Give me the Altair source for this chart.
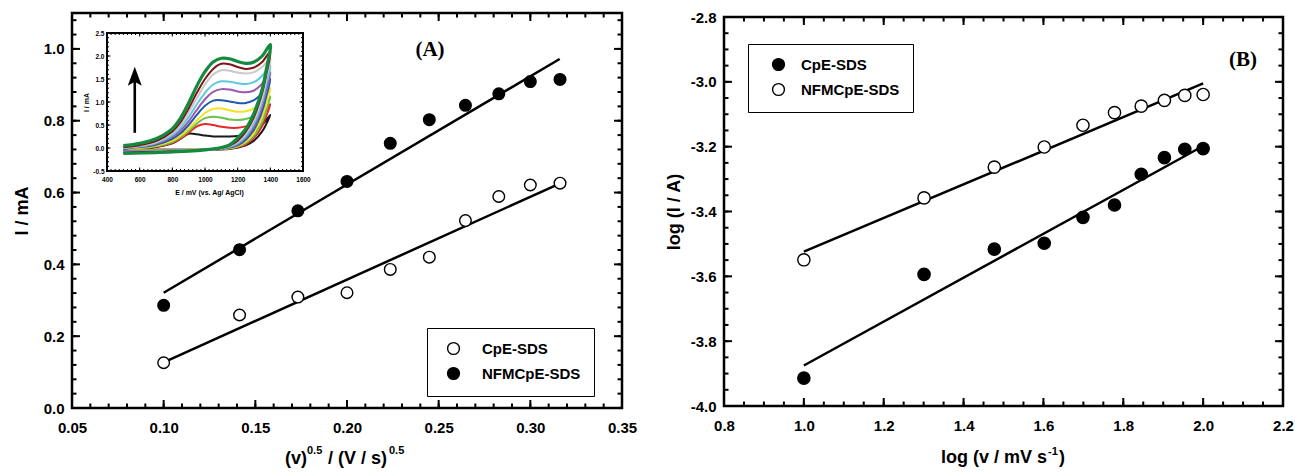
import altair as alt
import pandas as pd

W, H = 1295, 474
SANS = "Liberation Sans"
SERIF = "Liberation Serif"
MINUS = chr(0x2212)

# ---------------- data: panel A ----------------
A_SERIES = ["CpE-SDS", "NFMCpE-SDS"]
A_X = [0.100, 0.1414, 0.1732, 0.200, 0.2236, 0.2449, 0.2646, 0.2828, 0.300, 0.3162]
A_CPE = [0.126, 0.259, 0.309, 0.321, 0.386, 0.420, 0.522, 0.589, 0.621, 0.626]
A_NFM = [0.286, 0.441, 0.549, 0.631, 0.737, 0.803, 0.843, 0.875, 0.909, 0.915]
A_FIT_X = [0.100, 0.316]
A_FIT_CPE = [0.127, 0.625]
A_FIT_NFM = [0.321, 0.972]

# ---------------- data: panel B ----------------
B_SERIES = ["CpE-SDS", "NFMCpE-SDS"]
B_X = [1.000, 1.301, 1.477, 1.602, 1.699, 1.778, 1.845, 1.903, 1.954, 2.000]
B_CPE = [-3.914, -3.594, -3.516, -3.498, -3.418, -3.380, -3.285, -3.234, -3.208, -3.206]
B_NFM = [-3.549, -3.358, -3.263, -3.201, -3.134, -3.095, -3.075, -3.057, -3.042, -3.039]
B_FIT_X = [1.0, 2.0]
B_FIT_CPE = [-3.875, -3.198]
B_FIT_NFM = [-3.524, -3.005]

# ---------------- data: inset (cyclic voltammograms) ----------------
INSET_E_UP = [500, 600, 700, 800, 850, 900, 950, 1000, 1050, 1100, 1150, 1200, 1250, 1300, 1350, 1400]
INSET_E_DOWN = [1375, 1350, 1300, 1250, 1200, 1150, 1100, 1000, 900, 700, 500]
INSET_CURVES = ["black", "red", "lightgreen", "yellow", "blue", "purple", "cyan", "gray", "maroon", "green"]
INSET_COLORS = ["#1a1a1a", "#e8282b", "#6cc24a", "#f0e21e", "#1f5aa8", "#9b59b0", "#5ec9dd", "#c9c9c9", "#7b1416", "#138a3d"]
INSET_UP = {
    "black":      [-0.04, -0.02, 0.02, 0.10, 0.20, 0.31, 0.30, 0.27, 0.25, 0.25, 0.25, 0.26, 0.29, 0.36, 0.50, 0.72],
    "red":        [-0.04, -0.01, 0.03, 0.11, 0.20, 0.33, 0.47, 0.52, 0.50, 0.46, 0.44, 0.44, 0.47, 0.55, 0.70, 0.95],
    "lightgreen": [-0.03, 0.00, 0.04, 0.13, 0.23, 0.37, 0.53, 0.65, 0.68, 0.66, 0.62, 0.61, 0.63, 0.70, 0.86, 1.12],
    "yellow":     [-0.03, 0.01, 0.05, 0.16, 0.27, 0.42, 0.60, 0.76, 0.85, 0.86, 0.82, 0.79, 0.80, 0.86, 1.02, 1.30],
    "blue":       [-0.02, 0.02, 0.07, 0.20, 0.32, 0.50, 0.72, 0.92, 1.03, 1.04, 1.01, 0.98, 0.98, 1.04, 1.20, 1.50],
    "purple":     [-0.01, 0.03, 0.09, 0.24, 0.38, 0.58, 0.83, 1.06, 1.22, 1.28, 1.27, 1.23, 1.21, 1.25, 1.40, 1.65],
    "cyan":       [0.00, 0.04, 0.11, 0.28, 0.44, 0.67, 0.95, 1.20, 1.38, 1.45, 1.44, 1.41, 1.39, 1.43, 1.57, 1.80],
    "gray":       [0.01, 0.05, 0.13, 0.32, 0.50, 0.77, 1.08, 1.38, 1.60, 1.69, 1.68, 1.64, 1.62, 1.65, 1.76, 1.95],
    "maroon":     [0.02, 0.06, 0.15, 0.36, 0.56, 0.86, 1.20, 1.50, 1.72, 1.83, 1.82, 1.76, 1.72, 1.75, 1.87, 2.10],
    "green":      [0.05, 0.10, 0.20, 0.42, 0.65, 0.98, 1.35, 1.66, 1.87, 1.95, 1.94, 1.88, 1.84, 1.87, 2.00, 2.25],
}
INSET_DOWN = {
    "black":      [0.52, 0.36, 0.16, 0.06, 0.01, -0.02, -0.03, -0.04, -0.04, -0.04, -0.04],
    "red":        [0.70, 0.48, 0.22, 0.08, 0.02, -0.01, -0.03, -0.04, -0.04, -0.04, -0.04],
    "lightgreen": [0.82, 0.57, 0.27, 0.11, 0.03, -0.01, -0.03, -0.04, -0.04, -0.04, -0.04],
    "yellow":     [0.96, 0.68, 0.33, 0.14, 0.04, 0.00, -0.02, -0.04, -0.04, -0.05, -0.05],
    "blue":       [1.12, 0.80, 0.40, 0.18, 0.06, 0.01, -0.02, -0.04, -0.05, -0.06, -0.06],
    "purple":     [1.25, 0.90, 0.46, 0.22, 0.08, 0.02, -0.02, -0.04, -0.05, -0.06, -0.07],
    "cyan":       [1.38, 1.00, 0.53, 0.26, 0.10, 0.03, -0.01, -0.04, -0.05, -0.07, -0.08],
    "gray":       [1.50, 1.10, 0.60, 0.31, 0.13, 0.04, -0.01, -0.04, -0.06, -0.08, -0.09],
    "maroon":     [1.60, 1.20, 0.68, 0.36, 0.16, 0.05, 0.00, -0.04, -0.06, -0.08, -0.10],
    "green":      [1.70, 1.28, 0.76, 0.42, 0.22, 0.07, 0.01, -0.04, -0.07, -0.10, -0.12],
}
ARROW_E = [570]
ARROW_I = [0.33, 1.55]

# ---------------- domains & tick labels ----------------
A_XDOM, A_YDOM = [0.05, 0.35], [0.0, 1.1]
B_XDOM, B_YDOM = [0.8, 2.2], [-4.0, -2.8]
I_XDOM, I_YDOM = [400, 1600], [-0.5, 2.5]

A_XLAB = [0.05, 0.10, 0.15, 0.20, 0.25, 0.30, 0.35]
A_YLAB = [0.0, 0.2, 0.4, 0.6, 0.8, 1.0]
B_XLAB = [0.8, 1.0, 1.2, 1.4, 1.6, 1.8, 2.0, 2.2]
B_YLAB = [-4.0, -3.8, -3.6, -3.4, -3.2, -3.0, -2.8]
I_XLAB = [400, 600, 800, 1000, 1200, 1400, 1600]
I_YLAB = [-0.5, 0.0, 0.5, 1.0, 1.5, 2.0, 2.5]

A_XT = [round(0.05 + 0.01 * i, 2) for i in range(31)]
A_YT = [round(0.04 * i, 2) for i in range(28)]
B_XT = [round(0.8 + 0.05 * i, 2) for i in range(29)]
B_YT = [round(-4.0 + 0.05 * i, 2) for i in range(25)]
I_XT = [400 + 25 * i for i in range(49)]
I_YT = [round(-0.5 + 0.1 * i, 1) for i in range(31)]

# ---------------- pixel frames (plot areas) ----------------
A_L, A_R, A_T, A_B = 72, 622, 13, 408
B_L, B_R, B_T, B_B = 724, 1283, 17, 406
I_L, I_R, I_T, I_B = 107, 303, 33, 171

sxA = alt.Scale(domain=A_XDOM, range=[A_L, A_R], nice=False, zero=False)
syA = alt.Scale(domain=A_YDOM, range=[A_B, A_T], nice=False, zero=False)
sxB = alt.Scale(domain=B_XDOM, range=[B_L, B_R], nice=False, zero=False)
syB = alt.Scale(domain=B_YDOM, range=[B_B, B_T], nice=False, zero=False)
sxI = alt.Scale(domain=I_XDOM, range=[I_L, I_R], nice=False, zero=False)
syI = alt.Scale(domain=I_YDOM, range=[I_B, I_T], nice=False, zero=False)

DASH_EXPR = f"replace(datum.label, '{MINUS}', '-')"


def label_axis(orient, offset, values, fmt, pad, size, title=None, tx=None, ty=None,
               tsize=18):
    kw = dict(orient=orient, offset=offset, values=values, format=fmt, ticks=False, tickSize=0,
              labelPadding=pad, labelFont=SANS, labelFontSize=size, labelFontWeight="bold",
              labelColor="black", labelFlush=False, labelOverlap=False, labelExpr=DASH_EXPR,
              domain=False, grid=False)
    if title is None:
        kw["title"] = None
    else:
        kw.update(title=title, titleFont=SANS, titleFontSize=tsize, titleFontWeight="bold",
                  titleColor="black", titleX=tx, titleY=ty)
    return alt.Axis(**kw)


def axis_layers(xs, ys, xdom, ydom, xaxis, yaxis):
    df = pd.DataFrame({"x": xdom, "y": ydom})
    return [
        alt.Chart(df).mark_point(opacity=0).encode(
            x=alt.X("x:Q", scale=xs, axis=xaxis), y=alt.Y("y:Q", scale=ys, axis=None)),
        alt.Chart(df).mark_point(opacity=0).encode(
            x=alt.X("x:Q", scale=xs, axis=None), y=alt.Y("y:Q", scale=ys, axis=yaxis)),
    ]


def frame(xs, ys, xdom, ydom, width):
    df = pd.DataFrame({"x0": [xdom[0]], "x1": [xdom[1]], "y0": [ydom[0]], "y1": [ydom[1]]})
    return alt.Chart(df).mark_rect(fill=None, stroke="black", strokeWidth=width,
                                   strokeJoin="miter").encode(
        x=alt.X("x0:Q", scale=xs, axis=None), x2="x1:Q",
        y=alt.Y("y0:Q", scale=ys, axis=None), y2="y1:Q")


def inward_ticks(xs, ys, box, xmaj, xmin, ymaj, ymin, big, small, width):
    """inward-pointing tick marks on all four edges, placed through the scales"""
    left, right, top, bottom = box
    out = []
    for vals, size in ((xmin, small), (xmaj, big)):
        d = pd.DataFrame({"v": vals})
        out.append(alt.Chart(d).mark_rule(color="black", strokeWidth=width).encode(
            x=alt.X("v:Q", scale=xs, axis=None), y=alt.value(bottom), y2=alt.value(bottom - size)))
        out.append(alt.Chart(d).mark_rule(color="black", strokeWidth=width).encode(
            x=alt.X("v:Q", scale=xs, axis=None), y=alt.value(top), y2=alt.value(top + size)))
    for vals, size in ((ymin, small), (ymaj, big)):
        d = pd.DataFrame({"v": vals})
        out.append(alt.Chart(d).mark_rule(color="black", strokeWidth=width).encode(
            y=alt.Y("v:Q", scale=ys, axis=None), x=alt.value(left), x2=alt.value(left + size)))
        out.append(alt.Chart(d).mark_rule(color="black", strokeWidth=width).encode(
            y=alt.Y("v:Q", scale=ys, axis=None), x=alt.value(right), x2=alt.value(right - size)))
    return out


def legend(x, y, sym_off, lab_off):
    return alt.Legend(orient="none", legendX=x, legendY=y, title=None, strokeColor="black",
                      fillColor="white", padding=13, symbolType="circle", symbolSize=140,
                      symbolStrokeColor="black", symbolStrokeWidth=1.4, symbolOffset=sym_off,
                      labelOffset=lab_off, labelFont=SANS, labelFontSize=15,
                      labelFontWeight="bold", labelColor="black", rowPadding=6)


# ---------------- panel A ----------------
dfA = pd.DataFrame({"x": A_X + A_X, "y": A_CPE + A_NFM,
                    "s": [A_SERIES[0]] * len(A_X) + [A_SERIES[1]] * len(A_X)})
dfAf = pd.DataFrame({"x": A_FIT_X + A_FIT_X, "y": A_FIT_CPE + A_FIT_NFM,
                     "s": [A_SERIES[0]] * 2 + [A_SERIES[1]] * 2})
fitA = alt.Chart(dfAf).mark_line(color="black", strokeWidth=2.5).encode(
    x=alt.X("x:Q", scale=sxA, axis=None), y=alt.Y("y:Q", scale=syA, axis=None), detail="s:N")
ptsA = alt.Chart(dfA).mark_point(filled=True, shape="circle", size=135, stroke="black",
                                 strokeWidth=1.4, opacity=1).encode(
    x=alt.X("x:Q", scale=sxA, axis=None), y=alt.Y("y:Q", scale=syA, axis=None),
    fill=alt.Fill("s:N", scale=alt.Scale(domain=A_SERIES, range=["white", "black"]),
                  legend=legend(427, 328, 6, 21)))
axA = axis_layers(
    sxA, syA, A_XDOM, A_YDOM,
    label_axis("bottom", A_B - H, A_XLAB, ".2f", 12, 15),
    label_axis("left", -A_L, A_YLAB, ".1f", 8, 15, title="I / mA", tx=-41, ty=(A_T + A_B) / 2))
ticksA = inward_ticks(sxA, syA, (A_L, A_R, A_T, A_B), A_XLAB, A_XT, A_YLAB, A_YT, 8, 4.5, 2)
panelA = alt.layer(*ticksA, frame(sxA, syA, A_XDOM, A_YDOM, 2.5), fitA, ptsA, *axA).resolve_axis(
    x="independent", y="independent")

# ---------------- inset ----------------
rows = []
for c in INSET_CURVES:
    es = INSET_E_UP + INSET_E_DOWN
    vs = INSET_UP[c] + INSET_DOWN[c]
    for i, (e, v) in enumerate(zip(es, vs)):
        rows.append({"c": c, "i": i, "E": e, "I": v})
dfI = pd.DataFrame(rows)
bgI = alt.Chart(pd.DataFrame({"x0": [I_XDOM[0]], "x1": [I_XDOM[1]], "y0": [I_YDOM[0]], "y1": [I_YDOM[1]]})).mark_rect(
    fill="white").encode(
    x=alt.X("x0:Q", scale=sxI, axis=None), x2="x1:Q",
    y=alt.Y("y0:Q", scale=syI, axis=None), y2="y1:Q")
curves = []
for c, col in zip(INSET_CURVES, INSET_COLORS):
    curves.append(alt.Chart(dfI[dfI["c"] == c]).mark_line(
        color=col, strokeWidth=3.2 if c == "green" else 2.0, interpolate="catmull-rom").encode(
        x=alt.X("E:Q", scale=sxI, axis=None), y=alt.Y("I:Q", scale=syI, axis=None),
        order=alt.Order("i:Q")))
arrow_df = pd.DataFrame({"E": ARROW_E, "I0": [ARROW_I[0]], "I1": [ARROW_I[1]]})
shaft = alt.Chart(arrow_df).mark_rule(color="black", strokeWidth=2.6).encode(
    x=alt.X("E:Q", scale=sxI, axis=None), y=alt.Y("I0:Q", scale=syI, axis=None), y2="I1:Q")
head = alt.Chart(arrow_df).mark_point(
    shape="M0,-1L0.7,0.9L0,0.5L-0.7,0.9Z", filled=True, color="black", size=400, opacity=1).encode(
    x=alt.X("E:Q", scale=sxI, axis=None), y=alt.Y("I1:Q", scale=syI, axis=None))
axI = axis_layers(
    sxI, syI, I_XDOM, I_YDOM,
    label_axis("bottom", I_B - H, I_XLAB, "d", 5, 6.5, title="E / mV (vs. Ag/ AgCl)",
               tx=(I_L + I_R) / 2 + 4, ty=17, tsize=7),
    label_axis("left", -I_L, I_YLAB, ".1f", 3, 6.5, title="I / mA", tx=-18,
               ty=(I_T + I_B) / 2, tsize=7))
ticksI = inward_ticks(sxI, syI, (I_L, I_R, I_T, I_B), I_XLAB, I_XT, I_YLAB, I_YT, 3.5, 2, 1)
inset = alt.layer(bgI, *ticksI, frame(sxI, syI, I_XDOM, I_YDOM, 2), *curves, shaft, head, *axI).resolve_axis(
    x="independent", y="independent")

# ---------------- panel B ----------------
dfB = pd.DataFrame({"x": B_X + B_X, "y": B_CPE + B_NFM,
                    "s": [B_SERIES[0]] * len(B_X) + [B_SERIES[1]] * len(B_X)})
dfBf = pd.DataFrame({"x": B_FIT_X + B_FIT_X, "y": B_FIT_CPE + B_FIT_NFM,
                     "s": [B_SERIES[0]] * 2 + [B_SERIES[1]] * 2})
fitB = alt.Chart(dfBf).mark_line(color="black", strokeWidth=2.5).encode(
    x=alt.X("x:Q", scale=sxB, axis=None), y=alt.Y("y:Q", scale=syB, axis=None), detail="s:N")
ptsB = alt.Chart(dfB).mark_point(filled=True, shape="circle", size=150, stroke="black",
                                 strokeWidth=1.4, opacity=1).encode(
    x=alt.X("x:Q", scale=sxB, axis=None), y=alt.Y("y:Q", scale=syB, axis=None),
    fill=alt.Fill("s:N", scale=alt.Scale(domain=B_SERIES, range=["black", "white"]),
                  legend=legend(748, 44, 10, 15)))
axB = axis_layers(
    sxB, syB, B_XDOM, B_YDOM,
    label_axis("bottom", B_B - H, B_XLAB, ".1f", 12, 15),
    label_axis("left", -B_L, B_YLAB, ".1f", 8, 15, title="log (I / A)", tx=-41, ty=(B_T + B_B) / 2))
ticksB = inward_ticks(sxB, syB, (B_L, B_R, B_T, B_B), B_XLAB, B_XT, B_YLAB, B_YT, 8, 4.5, 2)
panelB = alt.layer(*ticksB, frame(sxB, syB, B_XDOM, B_YDOM, 2.5), fitB, ptsB, *axB).resolve_axis(
    x="independent", y="independent")


# ---------------- free text (panel tags, x titles with superscripts) ----------------
def text(t, x, y, size, font=SANS, align="left", baseline="alphabetic"):
    return alt.Chart(pd.DataFrame({"t": [t]})).mark_text(
        font=font, fontSize=size, fontWeight="bold", color="black", align=align, baseline=baseline).encode(
        x=alt.value(x), y=alt.value(y), text="t:N")


texts = [
    text("(A)", 430, 50, 21, font=SERIF, align="center", baseline="middle"),
    text("(B)", 1243, 60, 21, font=SERIF, align="center", baseline="middle"),
    text("(v)", 285, 464, 18),
    text("0.5", 307, 454, 11),
    text("/ (V / s)", 328, 464, 18),
    text("0.5", 389, 454, 11),
    text("log (v / mV s", 941, 463, 18),
    text("-1", 1048, 455, 11),
    text(")", 1059, 463, 18),
]

chart = alt.layer(panelA, inset, panelB, *texts).resolve_scale(
    x="independent", y="independent", fill="independent").properties(
    width=W, height=H, autosize=alt.AutoSizeParams(type="none"), padding=0,
    background="white").configure_view(stroke=None)

chart.save("out.html", embed_options={"renderer": "svg", "actions": False})
